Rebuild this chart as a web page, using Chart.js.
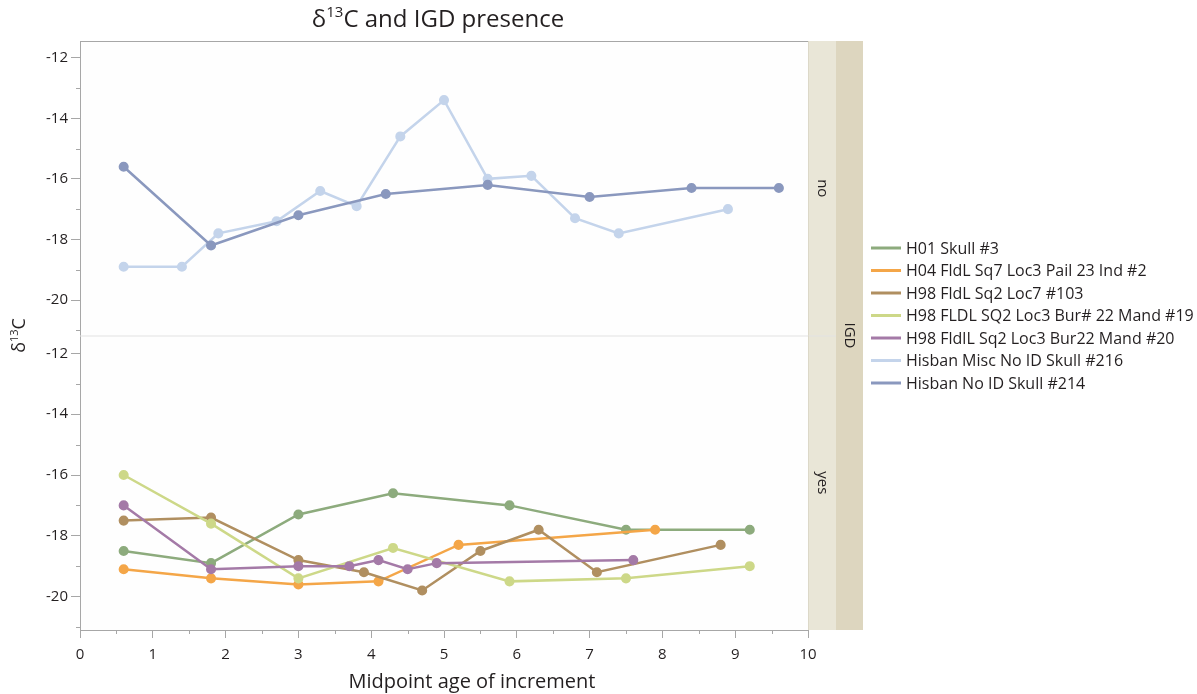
<!DOCTYPE html>
<html>
<head>
<meta charset="utf-8">
<title>δ13C and IGD presence</title>
<script src="https://cdn.jsdelivr.net/npm/chart.js@4.4.1/dist/chart.umd.min.js"></script>
<style>
  html, body { margin: 0; padding: 0; background: #ffffff; }
  #wrap { position: relative; width: 1197px; height: 694px; }
  canvas { display: block; }
</style>
</head>
<body>
<div id="wrap"><canvas id="chart" width="1197" height="694"></canvas></div>
<script>
// ---- data -------------------------------------------------------------
const xTickValues = [0, 1, 2, 3, 4, 5, 6, 7, 8, 9, 10];
const yTickValues = [-20, -18, -16, -14, -12];
const panelLabels = ['no', 'yes'];
const facetTitle = 'IGD';
const xTitle = 'Midpoint age of increment';

const seriesNames = [
  'H01 Skull #3',
  'H04 FldL Sq7 Loc3 Pail 23 Ind #2',
  'H98 FldL Sq2 Loc7 #103',
  'H98 FLDL SQ2 Loc3 Bur# 22 Mand #19',
  'H98 FldlL Sq2 Loc3 Bur22 Mand #20',
  'Hisban Misc No ID Skull #216',
  'Hisban No ID Skull #214'
];
// IGD presence for each individual (which panel it belongs to)
const seriesIGD = ['yes', 'yes', 'yes', 'yes', 'yes', 'no', 'no'];

const ageH01 = [0.6, 1.8, 3.0, 4.3, 5.9, 7.5, 9.2];
const d13cH01 = [-18.5, -18.9, -17.3, -16.6, -17.0, -17.8, -17.8];

const ageH04 = [0.6, 1.8, 3.0, 4.1, 5.2, 7.9];
const d13cH04 = [-19.1, -19.4, -19.6, -19.5, -18.3, -17.8];

const ageH98_103 = [0.6, 1.8, 3.0, 3.9, 4.7, 5.5, 6.3, 7.1, 8.8];
const d13cH98_103 = [-17.5, -17.4, -18.8, -19.2, -19.8, -18.5, -17.8, -19.2, -18.3];

const ageH98_19 = [0.6, 1.8, 3.0, 4.3, 5.9, 7.5, 9.2];
const d13cH98_19 = [-16.0, -17.6, -19.4, -18.4, -19.5, -19.4, -19.0];

const ageH98_20 = [0.6, 1.8, 3.0, 3.7, 4.1, 4.5, 4.9, 7.6];
const d13cH98_20 = [-17.0, -19.1, -19.0, -19.0, -18.8, -19.1, -18.9, -18.8];

const ageHis216 = [0.6, 1.4, 1.9, 2.7, 3.3, 3.8, 4.4, 5.0, 5.6, 6.2, 6.8, 7.4, 8.9];
const d13cHis216 = [-18.9, -18.9, -17.8, -17.4, -16.4, -16.9, -14.6, -13.4, -16.0, -15.9, -17.3, -17.8, -17.0];

const ageHis214 = [0.6, 1.8, 3.0, 4.2, 5.6, 7.0, 8.4, 9.6];
const d13cHis214 = [-15.6, -18.2, -17.2, -16.5, -16.2, -16.6, -16.3, -16.3];

const seriesAges = [ageH01, ageH04, ageH98_103, ageH98_19, ageH98_20, ageHis216, ageHis214];
const seriesValues = [d13cH01, d13cH04, d13cH98_103, d13cH98_19, d13cH98_20, d13cHis216, d13cHis214];

// ---- styling ----------------------------------------------------------
const palette = ['#8dab7d', '#f4a648', '#b08f60', '#cdd888', '#a47aa7', '#c4d4eb', '#8a98be'];
const FONT = "'Open Sans', 'Noto Sans', sans-serif";
const INK = '#231f20';
const AXIS_GREY = '#a7a7a7';
const STRIP_INNER = '#e9e6d7';
const STRIP_OUTER = '#ddd6bf';
const STRIP_W1 = 28;
const STRIP_W2 = 27;

// draw text with superscript runs: segs = [[text, isSup], ...]
function drawRich(ctx, segs, x, y, size, align) {
  ctx.save();
  ctx.textBaseline = 'middle';
  ctx.textAlign = 'left';
  const supSize = Math.round(size * 0.62);
  let total = 0;
  const widths = segs.map(([t, sup]) => {
    ctx.font = `${sup ? supSize : size}px ${FONT}`;
    const w = ctx.measureText(t).width;
    total += w;
    return w;
  });
  let cx = align === 'center' ? x - total / 2 : x;
  segs.forEach(([t, sup], i) => {
    ctx.font = `${sup ? supSize : size}px ${FONT}`;
    ctx.fillText(t, cx, sup ? y - size * 0.3 : y);
    cx += widths[i];
  });
  ctx.restore();
}

function line(ctx, x1, y1, x2, y2, color, w) {
  ctx.save();
  ctx.strokeStyle = color;
  ctx.lineWidth = w;
  ctx.beginPath();
  ctx.moveTo(x1, y1);
  ctx.lineTo(x2, y2);
  ctx.stroke();
  ctx.restore();
}

// frame, facet strips, minor ticks, titles and legend
const facetPlugin = {
  id: 'facetFrame',
  beforeDraw(chart) {
    const { ctx, chartArea: a } = chart;
    ctx.save();
    ctx.fillStyle = '#fefefe';
    ctx.fillRect(a.left, a.top, a.right - a.left, a.bottom - a.top);
    ctx.fillStyle = STRIP_INNER;
    ctx.fillRect(a.right, a.top, STRIP_W1, a.bottom - a.top);
    ctx.fillStyle = STRIP_OUTER;
    ctx.fillRect(a.right + STRIP_W1, a.top, STRIP_W2, a.bottom - a.top);
    ctx.restore();
  },
  beforeDatasetsDraw(chart) {
    const { ctx, chartArea: a, scales } = chart;
    const ySplit = scales.yYes.top;
    line(ctx, a.left, ySplit + 0.5, a.right + STRIP_W1, ySplit + 0.5, '#e2e2e2', 1);
    line(ctx, a.left, a.top + 0.5, a.right, a.top + 0.5, AXIS_GREY, 1);
    line(ctx, a.right + 0.5, a.top, a.right + 0.5, a.bottom, '#dcd8c8', 1);
  },
  afterDraw(chart) {
    const { ctx, chartArea: a, scales } = chart;
    // minor ticks
    const xs = scales.x;
    for (let v = 0.5; v < 10; v += 1) {
      const px = Math.round(xs.getPixelForValue(v)) + 0.5;
      line(ctx, px, a.bottom, px, a.bottom + 4, AXIS_GREY, 1);
    }
    ['yNo', 'yYes'].forEach(id => {
      const s = scales[id];
      [-21, -19, -17, -15, -13].forEach(v => {
        if (v < s.min || v > s.max) return;
        const py = Math.round(s.getPixelForValue(v)) + 0.5;
        line(ctx, a.left - 4, py, a.left, py, AXIS_GREY, 1);
      });
    });

    // facet strip labels
    ctx.save();
    ctx.fillStyle = INK;
    ctx.font = `15px ${FONT}`;
    ctx.textAlign = 'center';
    ctx.textBaseline = 'middle';
    const panels = [scales.yNo, scales.yYes];
    panels.forEach((s, i) => {
      ctx.save();
      ctx.translate(a.right + STRIP_W1 / 2, (s.top + s.bottom) / 2);
      ctx.rotate(Math.PI / 2);
      ctx.fillText(panelLabels[i], 0, 0);
      ctx.restore();
    });
    ctx.save();
    ctx.translate(a.right + STRIP_W1 + STRIP_W2 / 2, (a.top + a.bottom) / 2);
    ctx.rotate(Math.PI / 2);
    ctx.fillText(facetTitle, 0, 0);
    ctx.restore();

    // x axis title
    ctx.font = `20px ${FONT}`;
    ctx.fillText(xTitle, 472, 682);
    ctx.restore();

    // chart title
    ctx.save();
    ctx.fillStyle = INK;
    drawRich(ctx, [['δ', false], ['13', true], ['C and IGD presence', false]], 438, 20, 24, 'center');
    // shared y axis title
    ctx.translate(20, (a.top + a.bottom) / 2);
    ctx.rotate(-Math.PI / 2);
    drawRich(ctx, [['δ', false], ['13', true], ['C', false]], 0, 0, 18, 'center');
    ctx.restore();

    // legend
    ctx.save();
    ctx.font = `16px ${FONT}`;
    ctx.textBaseline = 'middle';
    ctx.textAlign = 'left';
    const lx = a.right + STRIP_W1 + STRIP_W2 + 8;
    seriesNames.forEach((name, i) => {
      const ly = 248 + i * 22.5;
      line(ctx, lx, ly, lx + 30, ly, palette[i], 3);
      ctx.fillStyle = INK;
      ctx.fillText(name, lx + 35, ly + 1);
    });
    ctx.restore();
  }
};

const datasets = seriesNames.map((name, i) => ({
  label: name,
  data: seriesAges[i].map((x, j) => ({ x, y: seriesValues[i][j] })),
  yAxisID: seriesIGD[i] === 'no' ? 'yNo' : 'yYes',
  borderColor: palette[i],
  backgroundColor: palette[i],
  pointBackgroundColor: palette[i],
  pointBorderColor: palette[i],
  borderWidth: 2.5,
  pointRadius: 3.8,
  pointHoverRadius: 3.8,
  tension: 0,
  order: seriesNames.length - i
}));

function yAxis(weight, min, max) {
  return {
    type: 'linear',
    position: 'left',
    stack: 'igd',
    stackWeight: 1,
    weight,
    min,
    max,
    afterBuildTicks: s => { s.ticks = yTickValues.map(v => ({ value: v })); },
    afterFit: s => { s.width = 80; },
    ticks: {
      color: INK,
      font: { family: FONT, size: 15 },
      padding: 3,
      callback: v => String(v)
    },
    grid: { drawOnChartArea: false, drawTicks: true, tickLength: 9, tickColor: AXIS_GREY },
    border: { display: true, color: AXIS_GREY }
  };
}

new Chart(document.getElementById('chart'), {
  type: 'line',
  data: { datasets },
  options: {
    responsive: false,
    animation: false,
    devicePixelRatio: 1,
    layout: { padding: { top: 41, right: 389, bottom: 0, left: 0 } },
    plugins: { legend: { display: false }, tooltip: { enabled: false }, title: { display: false } },
    scales: {
      x: {
        type: 'linear',
        position: 'bottom',
        min: 0,
        max: 10,
        afterBuildTicks: s => { s.ticks = xTickValues.map(v => ({ value: v })); },
        afterFit: s => { s.height = 64; },
        ticks: { color: INK, font: { family: FONT, size: 15 }, padding: 8, maxRotation: 0, autoSkip: false },
        grid: { drawOnChartArea: false, drawTicks: true, tickLength: 8, tickColor: AXIS_GREY },
        border: { display: true, color: AXIS_GREY },
        title: { display: false }
      },
      yNo: yAxis(2, -21.17, -11.45),
      yYes: yAxis(1, -21.1, -11.41)
    }
  },
  plugins: [facetPlugin]
});
</script>
</body>
</html>
